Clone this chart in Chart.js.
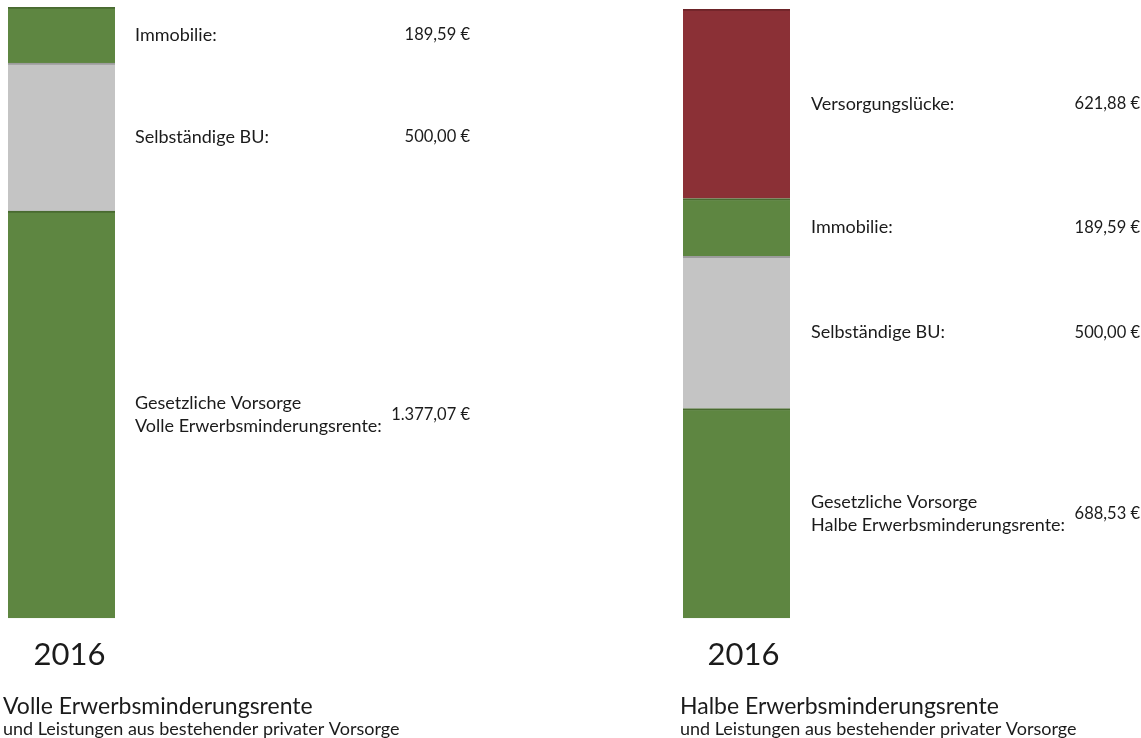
<!DOCTYPE html>
<html><head><meta charset="utf-8">
<script src="https://cdn.jsdelivr.net/npm/chart.js@4/dist/chart.umd.min.js"></script>
<style>
html,body{margin:0;padding:0;background:#fff;}
#wrap{position:relative;width:1141px;height:738px;overflow:hidden;}
.box{position:absolute;top:0;height:738px;}
#b1{left:0;width:575px;}
#b2{left:677px;width:464px;}
</style></head><body>
<div id="wrap"><div class="box" id="b1"><canvas id="c1"></canvas></div><div class="box" id="b2"><canvas id="c2"></canvas></div></div>
<script>
const yearLabels = ['2016'];

const leftNames = [['Gesetzliche Vorsorge', 'Volle Erwerbsminderungsrente:'], ['Selbständige BU:'], ['Immobilie:']];
const leftValues = [1377.07, 500.00, 189.59];
const leftTitle = 'Volle Erwerbsminderungsrente';
const leftSubtitle = 'und Leistungen aus bestehender privater Vorsorge';

const rightNames = [['Gesetzliche Vorsorge', 'Halbe Erwerbsminderungsrente:'], ['Selbständige BU:'], ['Immobilie:'], ['Versorgungslücke:']];
const rightValues = [688.53, 500.00, 189.59, 621.88];
const rightTitle = 'Halbe Erwerbsminderungsrente';
const rightSubtitle = 'und Leistungen aus bestehender privater Vorsorge';

const GREEN = '#5e8641', GREEN_B = '#496a30';
const GRAY = '#c4c4c4', GRAY_B = '#9c9c9c';
const RED = '#8b3036', RED_B = '#6c2328';
const leftFills = [GREEN, GRAY, GREEN];
const leftBorders = [GREEN_B, GRAY_B, GREEN_B];
const rightFills = [GREEN, GRAY, GREEN, RED];
const rightBorders = [GREEN_B, GRAY_B, GREEN_B, RED_B];

const FONT = 'Lato, "Open Sans", sans-serif';
const TEXT = '#1b1b1b';

function fmtEuro(v) {
  const parts = v.toFixed(2).split('.');
  const intPart = parts[0].replace(/\B(?=(\d{3})+(?!\d))/g, '.');
  return intPart + ',' + parts[1] + ' €';
}

const segLabels = {
  id: 'segLabels',
  afterDatasetsDraw(chart, args, opts) {
    const ctx = chart.ctx;
    ctx.save();
    ctx.fillStyle = TEXT;
    ctx.textBaseline = 'middle';
    chart.data.datasets.forEach((ds, i) => {
      const bar = chart.getDatasetMeta(i).data[0];
      const mid = (bar.y + bar.base) / 2;
      const right = bar.x + bar.width / 2;
      const lines = ds.names;
      const lh = 23;
      const y0 = mid - (lines.length - 1) * lh / 2;
      ctx.font = '18px ' + FONT;
      ctx.textAlign = 'left';
      lines.forEach((t, k) => ctx.fillText(t, right + opts.labelGap, y0 + k * lh));
      ctx.font = '16.5px ' + FONT;
      ctx.textAlign = 'right';
      ctx.fillText(fmtEuro(ds.data[0]), right + opts.valueEnd, mid);
    });
    ctx.restore();
  }
};

function makeChart(id, names, values, fills, borders, title, subtitle, padTop, rightWidth, tickOffset, labelGap, valueEnd) {
  const total = values.reduce((a, b) => a + b, 0);
  return new Chart(document.getElementById(id), {
    type: 'bar',
    data: {
      labels: yearLabels,
      datasets: values.map((v, i) => ({
        label: names[i].join(' '),
        names: names[i],
        data: [v],
        backgroundColor: fills[i],
        borderColor: borders[i],
        borderWidth: {top: 2, left: 0, right: 0, bottom: 0},
        borderSkipped: false,
        barThickness: 107
      }))
    },
    options: {
      responsive: true,
      maintainAspectRatio: false,
      animation: false,
      layout: {padding: {top: padTop, left: 3, right: 0, bottom: 0}},
      scales: {
        x: {
          stacked: true,
          grid: {display: false},
          border: {display: false},
          ticks: {font: {family: FONT, size: 31}, color: TEXT, padding: 10, labelOffset: tickOffset}
        },
        y: {
          stacked: true, position: 'right', min: 0, max: total,
          grid: {display: false}, border: {display: false}, ticks: {display: false},
          afterFit(scale) { scale.width = rightWidth; }
        }
      },
      plugins: {
        legend: {display: false},
        tooltip: {enabled: false},
        title: {
          display: true, position: 'bottom', align: 'start', weight: 1000,
          text: title, color: TEXT,
          font: {family: FONT, size: 23, weight: 'normal', lineHeight: 1.0},
          padding: {top: 12, bottom: 1.5}
        },
        subtitle: {
          display: true, position: 'bottom', align: 'start', weight: 1500,
          text: subtitle, color: TEXT,
          font: {family: FONT, size: 18, weight: 'normal', lineHeight: 1.0},
          padding: {top: 0, bottom: 0}
        },
        segLabels: {labelGap: labelGap, valueEnd: valueEnd}
      }
    },
    plugins: [segLabels]
  });
}

makeChart('c1', leftNames, leftValues, leftFills, leftBorders, leftTitle, leftSubtitle, 7, 575 - 120, 8, 20, 355);
makeChart('c2', rightNames, rightValues, rightFills, rightBorders, rightTitle, rightSubtitle, 9, 464 - 116, 7, 21, 350);
</script>
</body></html>
